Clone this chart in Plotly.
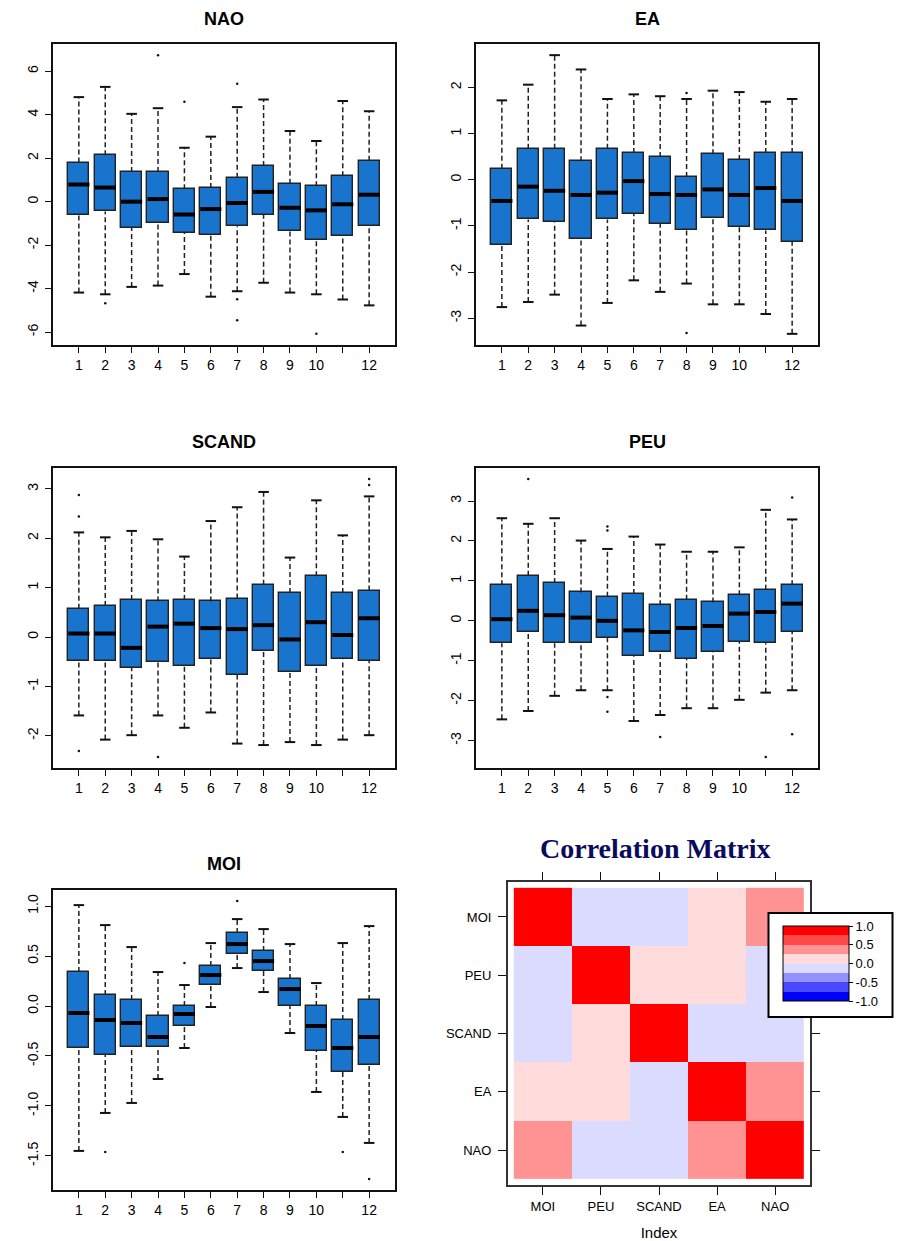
import plotly.graph_objects as go

W, H = 905, 1241

months = list(range(1, 13))
month_labels = ["1", "2", "3", "4", "5", "6", "7", "8", "9", "10", "", "12"]

# ---- Monthly box statistics per teleconnection index ----
nao_low = [-4.18, -4.26, -3.92, -3.86, -3.33, -4.37, -4.12, -3.73, -4.18, -4.26, -4.50, -4.77]
nao_q1 = [-0.59, -0.45, -1.19, -0.97, -1.43, -1.51, -1.13, -0.60, -1.37, -1.76, -1.57, -1.13]
nao_med = [0.79, 0.65, 0.00, 0.12, -0.59, -0.34, -0.06, 0.45, -0.28, -0.40, -0.12, 0.32]
nao_q3 = [1.80, 2.14, 1.36, 1.36, 0.57, 0.63, 1.10, 1.64, 0.83, 0.71, 1.17, 1.88]
nao_high = [4.81, 5.28, 4.04, 4.30, 2.48, 2.99, 4.35, 4.70, 3.25, 2.79, 4.63, 4.16]
nao_out_x = [2, 4, 5, 7, 7, 7, 10]
nao_out_y = [-4.67, 6.74, 4.60, 5.43, -4.49, -5.46, -6.08]

ea_low = [-2.76, -2.65, -2.49, -3.16, -2.67, -2.18, -2.43, -2.25, -2.70, -2.70, -2.91, -3.34]
ea_q1 = [-1.42, -0.86, -0.92, -1.29, -0.86, -0.74, -0.95, -1.10, -0.84, -1.02, -1.10, -1.35]
ea_med = [-0.46, -0.15, -0.24, -0.33, -0.28, -0.03, -0.31, -0.33, -0.21, -0.33, -0.18, -0.46]
ea_q3 = [0.24, 0.67, 0.67, 0.40, 0.67, 0.58, 0.49, 0.06, 0.55, 0.43, 0.58, 0.58]
ea_high = [1.72, 2.06, 2.70, 2.39, 1.75, 1.85, 1.81, 1.75, 1.93, 1.90, 1.69, 1.75]
ea_out_x = [8, 8]
ea_out_y = [1.88, -3.32]

scand_low = [-1.59, -2.08, -1.99, -1.59, -1.84, -1.53, -2.16, -2.19, -2.13, -2.19, -2.08, -1.99]
scand_q1 = [-0.48, -0.48, -0.63, -0.51, -0.59, -0.45, -0.77, -0.28, -0.70, -0.59, -0.45, -0.48]
scand_med = [0.07, 0.07, -0.22, 0.21, 0.27, 0.18, 0.16, 0.24, -0.05, 0.30, 0.04, 0.38]
scand_q3 = [0.57, 0.63, 0.75, 0.72, 0.75, 0.72, 0.78, 1.06, 0.89, 1.23, 0.89, 0.94]
scand_high = [2.12, 2.02, 2.15, 1.98, 1.63, 2.35, 2.63, 2.94, 1.61, 2.77, 2.06, 2.85]
scand_out_x = [1, 1, 1, 4, 12, 12]
scand_out_y = [2.88, 2.44, -2.31, -2.43, 3.20, 3.08]

peu_low = [-2.47, -2.26, -1.88, -1.74, -1.74, -2.51, -2.36, -2.19, -2.19, -1.98, -1.80, -1.74]
peu_q1 = [-0.56, -0.28, -0.56, -0.56, -0.43, -0.89, -0.78, -0.95, -0.78, -0.53, -0.56, -0.28]
peu_med = [0.04, 0.25, 0.14, 0.08, 0.00, -0.24, -0.28, -0.18, -0.13, 0.18, 0.22, 0.43]
peu_q3 = [0.89, 1.13, 0.95, 0.71, 0.60, 0.67, 0.39, 0.53, 0.46, 0.64, 0.78, 0.89]
peu_high = [2.57, 2.43, 2.57, 2.01, 1.80, 2.11, 1.91, 1.73, 1.73, 1.84, 2.78, 2.54]
peu_out_x = [2, 5, 5, 5, 5, 7, 11, 12, 12]
peu_out_y = [3.55, 2.36, 2.26, -1.91, -2.28, -2.91, -3.41, 3.09, -2.84]

moi_low = [-1.45, -1.07, -0.97, -0.73, -0.42, -0.01, 0.38, 0.14, -0.27, -0.86, -1.11, -1.37]
moi_q1 = [-0.42, -0.49, -0.41, -0.41, -0.20, 0.21, 0.52, 0.35, 0.00, -0.45, -0.66, -0.59]
moi_med = [-0.07, -0.14, -0.17, -0.31, -0.08, 0.31, 0.62, 0.45, 0.17, -0.20, -0.42, -0.31]
moi_q3 = [0.34, 0.11, 0.06, -0.10, 0.00, 0.40, 0.73, 0.55, 0.27, 0.00, -0.14, 0.06]
moi_high = [1.01, 0.81, 0.59, 0.34, 0.21, 0.63, 0.87, 0.77, 0.62, 0.23, 0.63, 0.80]
moi_out_x = [2, 5, 7, 11, 12]
moi_out_y = [-1.46, 0.43, 1.05, -1.46, -1.73]

nao_ticks = [-6, -4, -2, 0, 2, 4, 6]
ea_ticks = [-3, -2, -1, 0, 1, 2]
scand_ticks = [-2, -1, 0, 1, 2, 3]
peu_ticks = [-3, -2, -1, 0, 1, 2, 3]
moi_ticks = [-1.5, -1.0, -0.5, 0.0, 0.5, 1.0]
moi_tick_text = ["-1.5", "-1.0", "-0.5", "0.0", "0.5", "1.0"]

# ---- Correlation matrix ----
idx_names = ["MOI", "PEU", "SCAND", "EA", "NAO"]
corr = [
    [1.00, -0.10, -0.10, 0.10, 0.35],
    [-0.10, 1.00, 0.10, 0.10, -0.05],
    [-0.10, 0.10, 1.00, -0.10, -0.10],
    [0.10, 0.10, -0.10, 1.00, 0.40],
    [0.35, -0.05, -0.10, 0.40, 1.00],
]
ramp = ["#0000FF", "#4949FF", "#9292FF", "#DBDBFF",
        "#FFDBDB", "#FF9292", "#FF4949", "#FF0000"]
cbar_vals = [-1.0, -0.5, 0.0, 0.5, 1.0]
cbar_text = ["-1.0", "-0.5", "0.0", "0.5", "1.0"]

BOX_FILL = "#1874CD"
INK = "#111111"
SANS = "Liberation Sans, Arial, sans-serif"


def dom_x(left, right):
    return [left / W, right / W]


def dom_y(top, bottom):
    return [1 - bottom / H, 1 - top / H]


panels = [
    dict(name="NAO", low=nao_low, q1=nao_q1, med=nao_med, q3=nao_q3, high=nao_high,
         ox=nao_out_x, oy=nao_out_y, ticks=nao_ticks, tick_text=[str(t) for t in nao_ticks],
         px=(53, 395, 44, 345), title_y=19),
    dict(name="EA", low=ea_low, q1=ea_q1, med=ea_med, q3=ea_q3, high=ea_high,
         ox=ea_out_x, oy=ea_out_y, ticks=ea_ticks, tick_text=[str(t) for t in ea_ticks],
         px=(476, 818, 44, 345), title_y=19),
    dict(name="SCAND", low=scand_low, q1=scand_q1, med=scand_med, q3=scand_q3, high=scand_high,
         ox=scand_out_x, oy=scand_out_y, ticks=scand_ticks, tick_text=[str(t) for t in scand_ticks],
         px=(53, 395, 468, 768), title_y=442),
    dict(name="PEU", low=peu_low, q1=peu_q1, med=peu_med, q3=peu_q3, high=peu_high,
         ox=peu_out_x, oy=peu_out_y, ticks=peu_ticks, tick_text=[str(t) for t in peu_ticks],
         px=(476, 818, 468, 768), title_y=442),
    dict(name="MOI", low=moi_low, q1=moi_q1, med=moi_med, q3=moi_q3, high=moi_high,
         ox=moi_out_x, oy=moi_out_y, ticks=moi_ticks, tick_text=moi_tick_text,
         px=(53, 395, 890, 1190), title_y=864),
]

fig = go.Figure()
layout = {}
annotations = []

BOXW = 0.8
CAPW = 0.4

for k, p in enumerate(panels, start=1):
    xa = "x" if k == 1 else f"x{k}"
    ya = "y" if k == 1 else f"y{k}"
    xkey = "xaxis" if k == 1 else f"xaxis{k}"
    ykey = "yaxis" if k == 1 else f"yaxis{k}"

    # dashed whiskers
    wx, wy = [], []
    for m, lo, a, b, hi in zip(months, p["low"], p["q1"], p["q3"], p["high"]):
        wx += [m, m, None, m, m, None]
        wy += [b, hi, None, lo, a, None]
    fig.add_trace(go.Scatter(x=wx, y=wy, mode="lines", xaxis=xa, yaxis=ya,
                             line=dict(color="#222222", width=1.5, dash="5px,3px"),
                             hoverinfo="skip", showlegend=False))
    # whisker caps
    cx, cy = [], []
    for m, lo, hi in zip(months, p["low"], p["high"]):
        cx += [m - CAPW / 2, m + CAPW / 2, None, m - CAPW / 2, m + CAPW / 2, None]
        cy += [hi, hi, None, lo, lo, None]
    fig.add_trace(go.Scatter(x=cx, y=cy, mode="lines", xaxis=xa, yaxis=ya,
                             line=dict(color=INK, width=2),
                             hoverinfo="skip", showlegend=False))
    # interquartile boxes
    fig.add_trace(go.Bar(x=months, y=[b - a for a, b in zip(p["q1"], p["q3"])],
                         base=p["q1"], width=BOXW, xaxis=xa, yaxis=ya,
                         marker=dict(color=BOX_FILL, line=dict(color="#222222", width=1.4)),
                         showlegend=False))
    # medians
    mx, my = [], []
    for m, md in zip(months, p["med"]):
        mx += [m - BOXW / 2, m + BOXW / 2, None]
        my += [md, md, None]
    fig.add_trace(go.Scatter(x=mx, y=my, mode="lines", xaxis=xa, yaxis=ya,
                             line=dict(color="black", width=4),
                             hoverinfo="skip", showlegend=False))
    # outliers
    fig.add_trace(go.Scatter(x=p["ox"], y=p["oy"], mode="markers", xaxis=xa, yaxis=ya,
                             marker=dict(color=INK, size=2.5),
                             hoverinfo="skip", showlegend=False))

    vals = p["low"] + p["high"] + p["oy"]
    lo, hi = min(vals), max(vals)
    pad = 0.04 * (hi - lo)
    left, right, top, bottom = p["px"]

    layout[xkey] = dict(domain=dom_x(left, right), anchor=ya, range=[0.5 - 0.48, 12.5 + 0.48],
                        tickvals=months, ticktext=month_labels, ticks="outside", ticklen=6,
                        tickwidth=1.2, tickcolor=INK, showline=True, linecolor=INK, linewidth=1.5,
                        mirror=True, showgrid=False, zeroline=False,
                        tickfont=dict(family=SANS, size=14, color="black"))
    layout[ykey] = dict(domain=dom_y(top, bottom), anchor=xa, range=[lo - pad, hi + pad],
                        tickvals=p["ticks"], ticktext=p["tick_text"], ticks="outside", ticklen=6,
                        tickwidth=1.2, tickcolor=INK, showline=True, linecolor=INK, linewidth=1.5,
                        mirror=True, showgrid=False, zeroline=False, tickangle=-90,
                        ticklabelstandoff=2,
                        tickfont=dict(family=SANS, size=14, color="black"))
    annotations.append(dict(text=f"<b>{p['name']}</b>", x=(left + right) / 2 / W, y=1 - p["title_y"] / H,
                            xref="paper", yref="paper", xanchor="center", yanchor="middle",
                            showarrow=False, font=dict(family=SANS, size=18, color="black")))

# ---- Correlation heatmap ----
scale = []
n = len(ramp)
for i, c in enumerate(ramp):
    scale.append([i / n, c])
    scale.append([(i + 1) / n, c])

fig.add_trace(go.Heatmap(
    z=corr, x=idx_names, y=idx_names, xaxis="x6", yaxis="y6",
    zmin=-1, zmax=1, colorscale=scale, hoverinfo="skip",
    colorbar=dict(
        x=770 / W, xanchor="left", y=1 - 913 / H, yanchor="top",
        lenmode="pixels", len=101, thicknessmode="pixels", thickness=66,
        xpad=13, ypad=13, outlinewidth=1, outlinecolor="black",
        bordercolor="black", borderwidth=2, bgcolor="white",
        tickvals=cbar_vals, ticktext=cbar_text, ticks="outside", ticklen=4,
        tickcolor="black", tickfont=dict(family=SANS, size=13, color="black"),
    ),
))

layout["xaxis6"] = dict(domain=dom_x(508, 810), anchor="y6", range=[-0.6, 4.6],
                        ticks="outside", ticklen=8, tickcolor=INK, showline=True, linecolor="#333333",
                        linewidth=2, mirror="ticks", showgrid=False, zeroline=False,
                        tickfont=dict(family=SANS, size=13, color="black"),
                        title=dict(text="Index", font=dict(family=SANS, size=15, color="black"),
                                   standoff=17))
layout["yaxis6"] = dict(domain=dom_y(882, 1185), anchor="x6", range=[4.6, -0.6],
                        ticks="outside", ticklen=8, tickcolor=INK, showline=True, linecolor="#333333",
                        linewidth=2, mirror="ticks", showgrid=False, zeroline=False,
                        ticklabelstandoff=4,
                        tickfont=dict(family=SANS, size=13, color="black"))

annotations.append(dict(text="<b>Correlation Matrix</b>", x=655 / W, y=1 - 848 / H,
                        xref="paper", yref="paper", xanchor="center", yanchor="middle",
                        showarrow=False,
                        font=dict(family="Liberation Serif, Times New Roman, serif", size=28,
                                  color="#0B0B5E")))

fig.update_layout(
    width=W, height=H, autosize=False,
    margin=dict(l=0, r=0, t=0, b=0),
    paper_bgcolor="white", plot_bgcolor="white",
    showlegend=False, bargap=0,
    annotations=annotations,
    **layout,
)

fig.write_html("out.html")
